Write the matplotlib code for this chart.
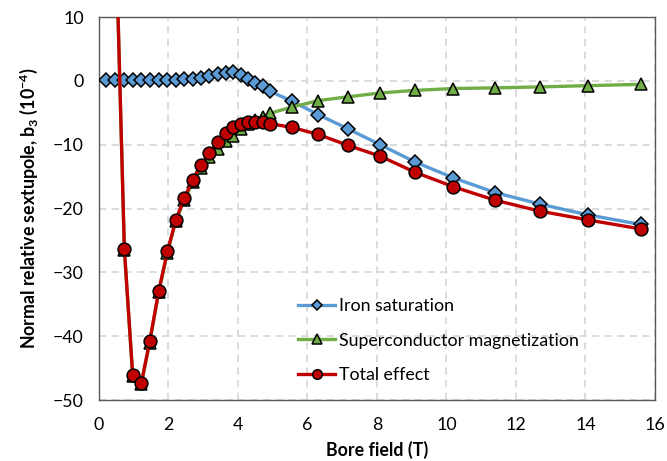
import matplotlib
matplotlib.use("Agg")
import matplotlib.pyplot as plt

plt.rcParams['font.family'] = ['Lato', 'DejaVu Sans']
plt.rcParams['mathtext.fontset'] = 'custom'
plt.rcParams['mathtext.rm'] = 'Lato'
plt.rcParams['mathtext.bf'] = 'Lato:bold'

# Bore field (T)
field = [0.20, 0.46, 0.73, 0.97, 1.22, 1.46, 1.72, 1.97, 2.21, 2.46, 2.70,
         2.94, 3.18, 3.42, 3.65, 3.86, 4.09, 4.30, 4.50, 4.71, 4.91,
         5.56, 6.31, 7.16, 8.09, 9.09, 10.20, 11.40, 12.68, 14.08, 15.59]

# b3 contributions (units of 1e-4)
iron_saturation = [0.2, 0.2, 0.2, 0.2, 0.2, 0.2, 0.2, 0.2, 0.2, 0.25, 0.35,
                   0.5, 0.7, 1.0, 1.3, 1.4, 0.9, 0.3, -0.3, -0.85, -1.6,
                   -3.2, -5.3, -7.5, -10.0, -12.7, -15.2, -17.5, -19.3, -21.0, -22.5]

sc_magnetization = [150.0, 27.8, -26.5, -46.3, -47.5, -41.0, -33.1, -26.9, -22.0, -18.6, -15.9,
                    -13.7, -12.0, -10.6, -9.5, -8.6, -7.6, -6.8, -6.2, -5.65, -5.1,
                    -4.1, -3.1, -2.5, -1.9, -1.5, -1.2, -1.1, -0.95, -0.75, -0.55]

total_effect = [150.2, 28.0, -26.3, -46.1, -47.3, -40.8, -32.9, -26.7, -21.8, -18.3, -15.5,
                -13.2, -11.3, -9.6, -8.2, -7.2, -6.7, -6.5, -6.5, -6.5, -6.7,
                -7.3, -8.4, -10.1, -11.8, -14.3, -16.6, -18.7, -20.4, -21.8, -23.2]

x_ticks = [0, 2, 4, 6, 8, 10, 12, 14, 16]
y_ticks = [-50, -40, -30, -20, -10, 0, 10]

fs = 12.8

fig = plt.figure(figsize=(6.67, 4.61), dpi=100)
ax = fig.add_axes([0.1484, 0.1323, 0.8336, 0.8308])

lw = 2.4
ax.plot(field, iron_saturation, color='#5B9BD5', lw=lw, marker='D', ms=7.2,
        mfc='#5B9BD5', mec='black', mew=1.1, label='Iron saturation', zorder=3)
ax.plot(field, sc_magnetization, color='#70AD47', lw=lw, marker='^', ms=9.2,
        mfc='#70AD47', mec='black', mew=1.1, label='Superconductor magnetization', zorder=4)
ax.plot(field, total_effect, color='#C00000', lw=lw, marker='o', ms=9.2,
        mfc='#C00000', mec='black', mew=1.1, label='Total effect', zorder=5)

ax.set_xlim(0, 16)
ax.set_ylim(-50, 10)
ax.set_xticks(x_ticks)
ax.set_yticks(y_ticks)
ax.tick_params(axis='both', length=0, labelsize=fs, colors='#000000')
ax.tick_params(axis='x', pad=12)
ax.tick_params(axis='y', pad=11)

ax.grid(True, color='#D9D9D9', lw=1.3, linestyle=(0, (4, 3)))
ax.set_axisbelow(True)
for side in ax.spines.values():
    side.set_color('#595959')
    side.set_linewidth(1.0)

ax.set_xlabel('Bore field (T)', fontsize=fs, fontweight='bold', labelpad=6)
ax.set_ylabel(r'Normal relative sextupole, b$_\mathbf{3}$ (10$^\mathbf{-4}$)',
              fontsize=fs, fontweight='bold', labelpad=9)

ax.legend(loc='lower left', bbox_to_anchor=(0.33, 0.002), frameon=False,
          fontsize=fs, handlelength=2.05, handletextpad=0.25, labelspacing=1.05,
          markerscale=0.75)

fig.savefig('out.png', dpi=100)
